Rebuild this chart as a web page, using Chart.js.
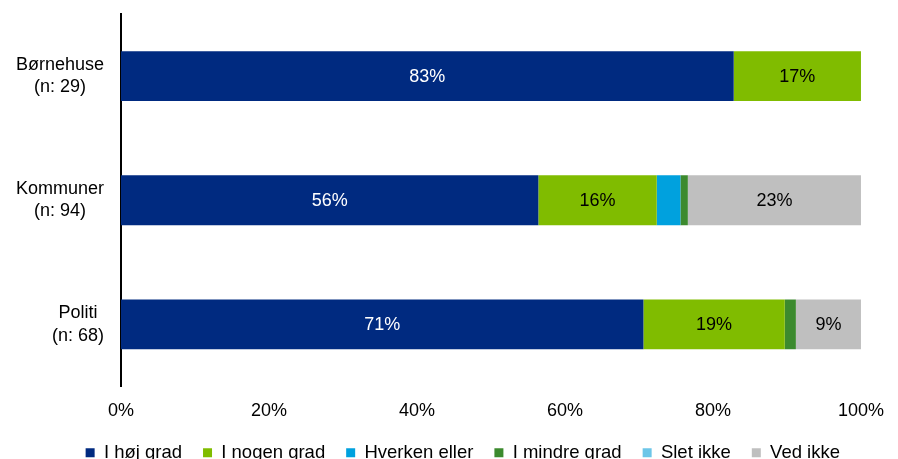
<!DOCTYPE html>
<html>
<head>
<meta charset="utf-8">
<script src="https://cdn.jsdelivr.net/npm/chart.js@4/dist/chart.umd.min.js"></script>
<style>
  html, body { margin: 0; padding: 0; background: #fff; overflow: hidden; }
  #wrap { position: relative; width: 898px; height: 472px; }
</style>
</head>
<body>
<div id="wrap"><canvas id="c"></canvas></div>
<script>
// ---- data ----
const categories = [['Børnehuse', '(n: 29)'], ['Kommuner', '(n: 94)'], ['Politi', '(n: 68)']];
const seriesNames = ['I høj grad', 'I nogen grad', 'Hverken eller', 'I mindre grad', 'Slet ikke', 'Ved ikke'];
const iHojGrad     = [82.8, 56.4, 70.6];
const iNogenGrad   = [17.2, 16.0, 19.1];
const hverkenEller = [0, 3.2, 0];
const iMindreGrad  = [0, 1.0, 1.5];
const sletIkke     = [0, 0, 0];
const vedIkke      = [0, 23.4, 8.8];
const xTicks = [0, 20, 40, 60, 80, 100];

const seriesValues = [iHojGrad, iNogenGrad, hverkenEller, iMindreGrad, sletIkke, vedIkke];
const colors = ['#002A80', '#80BC00', '#00A1DE', '#3C8A2E', '#6DC6E8', '#BFBFBF'];
const labelColors = ['#ffffff', '#000000', '#000000', '#000000', '#000000', '#000000'];

const FONT = '"Liberation Sans", Arial, sans-serif';
const FS = 18;

const datasets = seriesNames.map((name, i) => ({
  label: name,
  data: seriesValues[i],
  backgroundColor: colors[i],
  borderWidth: 0,
  categoryPercentage: 1,
  barPercentage: 0.402
}));

const valueLabels = {
  id: 'valueLabels',
  afterDatasetsDraw(chart) {
    const ctx = chart.ctx;
    ctx.save();
    ctx.font = FS + 'px ' + FONT;
    ctx.textAlign = 'center';
    ctx.textBaseline = 'middle';
    chart.data.datasets.forEach((ds, di) => {
      const meta = chart.getDatasetMeta(di);
      meta.data.forEach((bar, i) => {
        const v = ds.data[i];
        if (v < 5) return;
        const p = bar.getProps(['x', 'y', 'base'], true);
        ctx.fillStyle = labelColors[di];
        ctx.fillText(Math.round(v) + '%', (p.x + p.base) / 2, p.y + 1);
      });
    });
    ctx.restore();
  }
};

const catLabels = {
  id: 'catLabels',
  afterDraw(chart) {
    const ctx = chart.ctx;
    const ys = chart.scales.y;
    ctx.save();
    ctx.font = FS + 'px ' + FONT;
    ctx.fillStyle = '#000';
    ctx.textAlign = 'center';
    ctx.textBaseline = 'middle';
    const right = 104;
    chart.data.labels.forEach((lines, i) => {
      const y = ys.getPixelForTick(i);
      const w = Math.max(...lines.map(l => ctx.measureText(l).width));
      const cx = right - w / 2;
      const lh = 22.5;
      lines.forEach((l, k) => {
        ctx.fillText(l, cx, y + (k - (lines.length - 1) / 2) * lh);
      });
    });
    ctx.restore();
  }
};

new Chart(document.getElementById('c'), {
  type: 'bar',
  data: { labels: categories, datasets },
  options: {
    indexAxis: 'y',
    responsive: true,
    maintainAspectRatio: false,
    animation: false,
    layout: { padding: { top: 14, right: 37, left: 0, bottom: 0 } },
    scales: {
      x: {
        stacked: true,
        min: 0,
        max: 100,
        afterBuildTicks(scale) { scale.ticks = xTicks.map(v => ({ value: v })); },
        afterFit(scale) { scale.height = 36; },
        grid: { display: false, drawTicks: false },
        border: { display: false },
        ticks: {
          padding: 14,
          color: '#000',
          font: { family: FONT, size: FS },
          maxRotation: 0,
          callback: v => v + '%'
        }
      },
      y: {
        stacked: true,
        afterFit(scale) { scale.width = 121; },
        grid: { display: false, drawTicks: false },
        border: { display: true, color: '#000', width: 2 },
        ticks: { display: false }
      }
    },
    plugins: {
      legend: {
        position: 'bottom',
        align: 'end',
        labels: {
          boxWidth: 9,
          boxHeight: 9,
          padding: 21,
          color: '#000',
          font: { family: FONT, size: 18.5 }
        }
      },
      tooltip: { enabled: false }
    }
  },
  plugins: [valueLabels, catLabels]
});
</script>
</body>
</html>
